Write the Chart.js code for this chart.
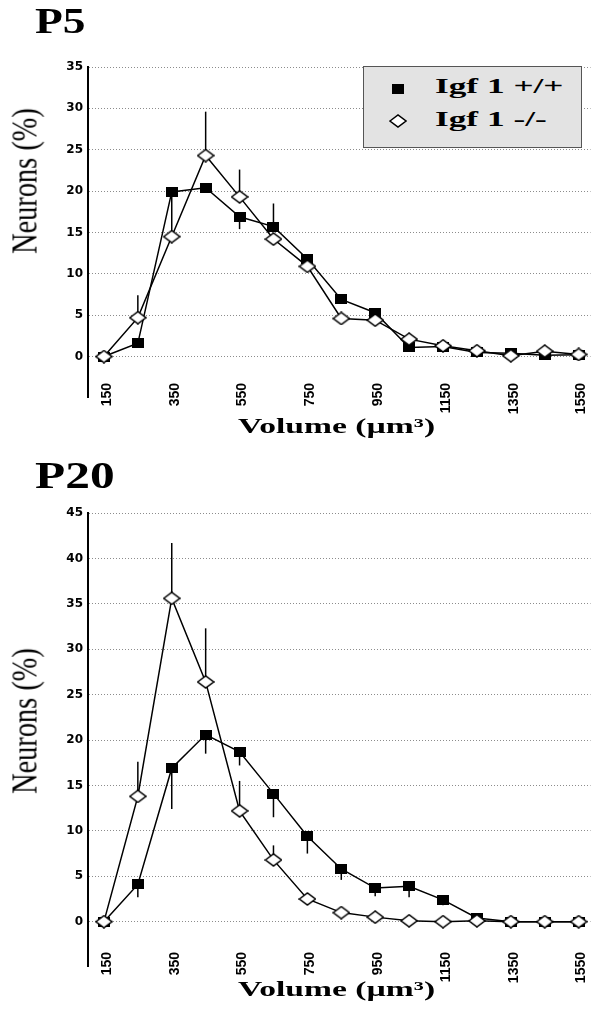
<!DOCTYPE html>
<html>
<head>
<meta charset="utf-8">
<script src="https://cdn.jsdelivr.net/npm/chart.js@4.4.0/dist/chart.umd.min.js"></script>
<style>
  body { margin:0; background:#fff; }
  #wrap { position:relative; width:598px; height:1009px; overflow:hidden; background:#fff; }
  canvas { position:absolute; left:0; }
  .t { position:absolute; white-space:nowrap; line-height:1; color:#000;
       font-family:"Liberation Serif","Times New Roman",serif; transform-origin:0 0; }
  .b { font-weight:bold; }
  .ytitle { transform-origin:50% 50%; font-size:35px; }
  #legend { position:absolute; left:363px; top:66px; width:217px; height:80px;
            border:1px solid #555; background:#e3e3e3; }
</style>
</head>
<body>
<div id="wrap">
  <canvas id="p5" width="598" height="440" style="top:0"></canvas>
  <canvas id="p20" width="598" height="569" style="top:440px"></canvas>

  <div class="t b" style="left:35px;top:4px;font-size:35px;transform:scaleX(1.3)">P5</div>
  <div class="t b" style="left:35px;top:456px;font-size:38px;transform:scaleX(1.3)">P20</div>

  <div class="t ytitle" style="left:25px;top:181px;transform:translate(-50%,-50%) rotate(-90deg) scaleX(0.81)">Neurons (%)</div>
  <div class="t ytitle" style="left:25px;top:721px;transform:translate(-50%,-50%) rotate(-90deg) scaleX(0.81)">Neurons (%)</div>

  <div class="t b" style="left:238px;top:416px;font-size:21px;transform:scaleX(1.6)">Volume (µm³)</div>
  <div class="t b" style="left:238px;top:979px;font-size:21px;transform:scaleX(1.6)">Volume (µm³)</div>

  <div id="legend"></div>
  <div style="position:absolute;left:392px;top:84px;width:12px;height:10px;background:#000"></div>
  <svg style="position:absolute;left:389px;top:114px" width="18" height="14">
    <polygon points="1,7 9,1 17,7 9,13" fill="#fff" stroke="#000" stroke-width="1.5"/>
  </svg>
  <div class="t b" style="left:435px;top:76px;font-size:21px;transform:scaleX(1.68)">Igf 1 +/+</div>
  <div class="t b" style="left:435px;top:109px;font-size:21px;transform:scaleX(1.68)">Igf 1 -/-</div>
</div>

<script>
// volume bins (µm³) and the labelled ticks
const volumes   = [150,250,350,450,550,650,750,850,950,1050,1150,1250,1350,1450,1550];
const xTickVals = [150,350,550,750,950,1150,1350,1550];

// P5, % of neurons per bin
const p5Wild     = [0,1.6,19.9,20.4,16.9,15.7,11.8,6.9,5.3,1.1,1.2,0.5,0.4,0.15,0.2];
const p5Null     = [0,4.7,14.5,24.3,19.3,14.2,10.9,4.6,4.4,2.1,1.3,0.7,0.1,0.65,0.25];
// end of the visible error bar for each point (null = none drawn)
const p5WildErr  = [null,null,null,null,15.4,18.5,null,null,null,null,null,null,null,null,null];
const p5NullErr  = [null,7.4,19.9,29.6,22.6,null,null,null,null,null,null,null,null,null,null];

// P20
const p20Wild    = [0,4.1,16.9,20.6,18.7,14.1,9.4,5.8,3.7,3.9,2.4,0.4,0,0,0];
const p20Null    = [0,13.8,35.6,26.4,12.2,6.8,2.5,1.0,0.5,0.1,0,0.1,0,0,0];
const p20WildErr = [null,2.7,12.4,18.5,17.2,11.5,7.5,4.6,2.8,2.7,1.8,null,null,null,null];
const p20NullErr = [null,17.6,41.7,32.3,15.5,8.4,null,null,null,null,null,null,null,null,null];

function squareMark(w, h) {
  const c = document.createElement("canvas"); c.width = w; c.height = h;
  const g = c.getContext("2d"); g.fillStyle = "#000"; g.fillRect(0, 0, w, h);
  return c;
}
function diamondMark(w, h) {
  const c = document.createElement("canvas"); c.width = w + 2; c.height = h + 2;
  const g = c.getContext("2d");
  g.beginPath();
  g.moveTo(1, h/2 + 1); g.lineTo(w/2 + 1, 1); g.lineTo(w + 1, h/2 + 1); g.lineTo(w/2 + 1, h + 1);
  g.closePath();
  g.fillStyle = "#fff"; g.fill();
  g.lineWidth = 1.5; g.strokeStyle = "#000"; g.stroke();
  return c;
}
const SQ = squareMark(12, 10);
const DM = diamondMark(16, 12);

// error bars + y axis line running on below the labelled range
function errPlugin(sets) {
  return {
    id: "errBars",
    beforeDatasetsDraw(chart) {
      const { ctx, scales: { x, y }, chartArea } = chart;
      ctx.save(); ctx.strokeStyle = "#000"; ctx.lineWidth = 1.5;
      sets.forEach(([vals, ends]) => ends.forEach((e, i) => {
        if (e == null) return;
        const px = x.getPixelForValue(volumes[i]);
        ctx.beginPath();
        ctx.moveTo(px, y.getPixelForValue(vals[i]));
        ctx.lineTo(px, y.getPixelForValue(e));
        ctx.stroke();
      }));
      ctx.lineWidth = 2;
      ctx.beginPath();
      ctx.moveTo(chartArea.left, chartArea.bottom - 1);
      ctx.lineTo(chartArea.left, chartArea.bottom + 15);
      ctx.stroke();
      ctx.restore();
    }
  };
}

function makeChart(id, yMin, yMax, topPad, wild, nul, wildErr, nulErr) {
  const pts = arr => volumes.map((v, i) => ({ x: v, y: arr[i] }));
  new Chart(document.getElementById(id), {
    type: "line",
    data: { datasets: [
      { label: "Igf 1 -/-", data: pts(nul), borderColor: "#000", borderWidth: 1.5,
        pointStyle: DM, pointRadius: 6, order: 0 },
      { label: "Igf 1 +/+", data: pts(wild), borderColor: "#000", borderWidth: 1.5,
        pointStyle: SQ, pointRadius: 6, order: 1 }
    ]},
    options: {
      responsive: false, animation: false, devicePixelRatio: 1,
      layout: { padding: { top: topPad, right: 1, left: 0, bottom: 0 } },
      plugins: { legend: { display: false }, tooltip: { enabled: false } },
      scales: {
        x: {
          type: "linear", min: 103, max: 1585,
          afterBuildTicks: s => { s.ticks = xTickVals.map(v => ({ value: v })); },
          afterFit: s => { s.height = 57; },
          grid: { display: false, drawTicks: false },
          border: { display: false },
          ticks: { autoSkip: false, minRotation: 90, maxRotation: 90, padding: 0, labelOffset: 3,
                   color: "#000", callback: v => String(v),
                   font: { family: "'Liberation Sans',Arial", size: 14, weight: "bold" } }
        },
        y: {
          min: yMin, max: yMax,
          afterFit: s => { s.width = 88; },
          afterBuildTicks: s => {
            const t = [];
            for (let v = 0; v <= yMax; v += 5) t.push({ value: v });
            s.ticks = t;
          },
          ticks: { padding: 5, color: "#000",
                   font: { family: "'DejaVu Sans',Arial", size: 12, weight: "bold" } },
          grid: { drawTicks: false, lineWidth: 1, color: "#8c8c8c" },
          border: { color: "#000", width: 2, dash: [1, 2] }
        }
      }
    },
    plugins: [errPlugin([[wild, wildErr], [nul, nulErr]])]
  });
}

// chart area bottoms sit where the rotated tick labels start (383 and 952 px)
makeChart("p5", -3.2, 35, 67, p5Wild, p5Null, p5WildErr, p5NullErr);
makeChart("p20", -3.34, 45, 73, p20Wild, p20Null, p20WildErr, p20NullErr);
</script>
</body>
</html>
